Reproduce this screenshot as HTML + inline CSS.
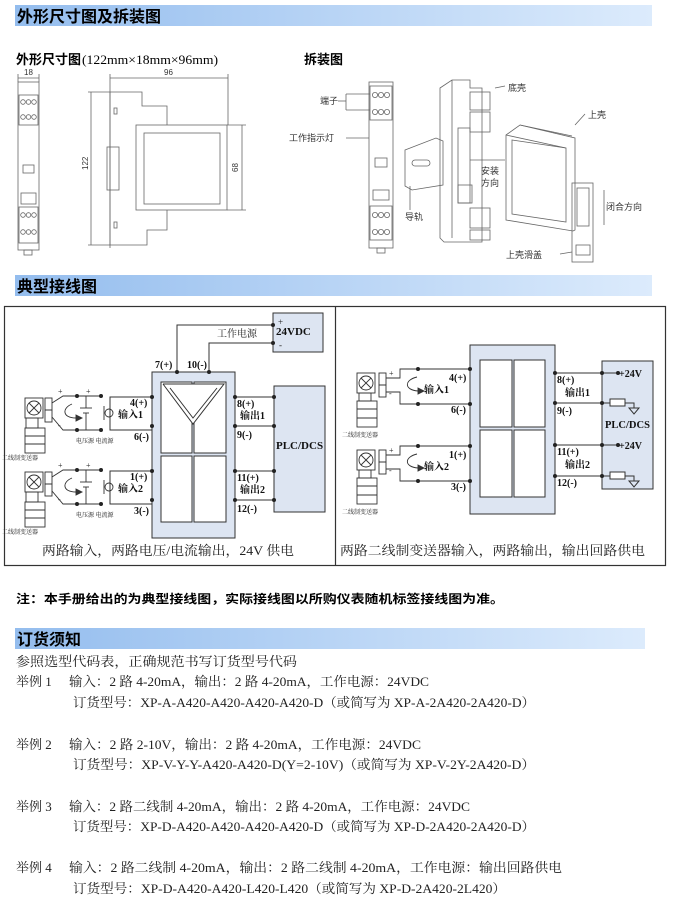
<!DOCTYPE html>
<html><head><meta charset="utf-8"><style>
body{margin:0;background:#fff;}
svg{display:block;}
.h{font-family:"Liberation Sans","Noto Sans CJK SC",sans-serif;font-weight:bold;font-size:16px;fill:#000;}
.s{font-family:"Liberation Serif","Noto Serif CJK SC",serif;fill:#222;}
.t{font-family:"Liberation Sans","Noto Sans CJK SC",sans-serif;fill:#333;}
.b{font-family:"Liberation Serif","Noto Serif CJK SC",serif;font-weight:bold;fill:#111;}
</style></head><body>
<svg width="690" height="917" viewBox="0 0 690 917" xmlns="http://www.w3.org/2000/svg">
<defs>
<linearGradient id="g" x1="0" x2="1" y1="0" y2="0"><stop offset="0" stop-color="#94bdee"/><stop offset="1" stop-color="#dcebfc"/></linearGradient>
</defs>
<rect x="15" y="5" width="637" height="21" fill="url(#g)"/>
<text class="h" x="17" y="22">外形尺寸图及拆装图</text>
<rect x="15" y="275" width="637" height="21" fill="url(#g)"/>
<text class="h" x="17" y="292">典型接线图</text>
<rect x="15" y="628" width="630" height="21" fill="url(#g)"/>
<text class="h" x="17" y="645">订货须知</text>

<text x="16" y="64" font-family="Liberation Sans,Noto Sans CJK SC,sans-serif" font-weight="bold" font-size="13">外形尺寸图</text>
<text x="82" y="64" font-family="Liberation Serif,Noto Serif CJK SC,serif" font-size="13" textLength="136" lengthAdjust="spacingAndGlyphs">(122mm×18mm×96mm)</text>
<text x="304" y="64" font-family="Liberation Sans,Noto Sans CJK SC,sans-serif" font-weight="bold" font-size="13">拆装图</text>

<g stroke="#666" fill="none" stroke-width="0.8">
<line x1="18" y1="78" x2="39" y2="78"/><line x1="18" y1="74" x2="18" y2="82"/><line x1="39" y1="74" x2="39" y2="82"/>
<rect x="18" y="82" width="21" height="168"/>
<rect x="19" y="95" width="19" height="30"/><rect x="19" y="207" width="19" height="36"/>
<circle cx="23" cy="102" r="2.3"/><circle cx="28.5" cy="102" r="2.3"/><circle cx="34" cy="102" r="2.3"/>
<circle cx="23" cy="117" r="2.3"/><circle cx="28.5" cy="117" r="2.3"/><circle cx="34" cy="117" r="2.3"/>
<circle cx="23" cy="215" r="2.3"/><circle cx="28.5" cy="215" r="2.3"/><circle cx="34" cy="215" r="2.3"/>
<circle cx="23" cy="232" r="2.3"/><circle cx="28.5" cy="232" r="2.3"/><circle cx="34" cy="232" r="2.3"/>
<rect x="23" y="165" width="11" height="8"/><rect x="21" y="193" width="15" height="11"/>
<rect x="24" y="250" width="8" height="5"/>
<line x1="110" y1="78" x2="228" y2="78"/><line x1="110" y1="74" x2="110" y2="248"/><line x1="228" y1="74" x2="228" y2="125"/>
<line x1="91" y1="92" x2="91" y2="245"/><line x1="88" y1="92" x2="110" y2="92"/><line x1="88" y1="245" x2="110" y2="245"/>
<polyline points="110,92 142,92 142,106 167,106 167,125"/>
<rect x="136" y="125" width="91" height="85"/><rect x="144" y="133" width="76" height="71"/>
<polyline points="167,210 167,230 147,230 147,245 110,245 110,92"/>
<rect x="107" y="147" width="12" height="43"/><rect x="114" y="108" width="3" height="6"/><rect x="114" y="222" width="3" height="6"/>
<line x1="227" y1="125" x2="246" y2="125"/><line x1="227" y1="210" x2="246" y2="210"/><line x1="242" y1="125" x2="242" y2="210"/>
<rect x="369" y="82" width="24" height="166"/>
<rect x="370" y="86" width="22" height="34"/><rect x="370" y="206" width="22" height="34"/>
<circle cx="375" cy="95" r="2.6"/><circle cx="381" cy="95" r="2.6"/><circle cx="387" cy="95" r="2.6"/>
<circle cx="375" cy="112" r="2.6"/><circle cx="381" cy="112" r="2.6"/><circle cx="387" cy="112" r="2.6"/>
<circle cx="375" cy="215" r="2.6"/><circle cx="381" cy="215" r="2.6"/><circle cx="387" cy="215" r="2.6"/>
<circle cx="375" cy="232" r="2.6"/><circle cx="381" cy="232" r="2.6"/><circle cx="387" cy="232" r="2.6"/>
<rect x="375" y="158" width="12" height="9"/><rect x="373" y="190" width="16" height="10"/><rect x="377" y="248" width="8" height="5"/>
<polyline points="346,94 346,110"/><line x1="346" y1="94" x2="370" y2="94"/><line x1="346" y1="110" x2="370" y2="110"/><line x1="338" y1="101" x2="346" y2="101"/>
<line x1="346" y1="138" x2="369" y2="138"/>
<polygon points="440,88 452,80 470,80 470,88 482,88 482,242 444,242 440,238"/>
<polyline points="452,80 452,238"/>
<rect x="470" y="92" width="20" height="18"/><rect x="470" y="112" width="20" height="20"/>
<rect x="470" y="208" width="20" height="20"/><rect x="470" y="230" width="20" height="10"/>
<rect x="458" y="128" width="12" height="75"/><rect x="458" y="185" width="14" height="18"/>
<polygon points="405,150 436,138 443,141 443,185 412,190 405,186"/><rect x="412" y="160" width="18" height="6" rx="3"/>
<line x1="410" y1="186" x2="410" y2="210"/>
<line x1="470" y1="160" x2="505" y2="160"/>
<polygon points="506,135 520,125 575,138 575,230 573,231 506,220"/>
<polygon points="512,140 566,148 566,222 512,214"/>
<line x1="506" y1="135" x2="566" y2="148"/><line x1="520" y1="125" x2="572" y2="136"/>
<rect x="572" y="183" width="21" height="79"/><rect x="577" y="188" width="12" height="38"/><rect x="576" y="245" width="14" height="10"/>
<line x1="604" y1="225" x2="604" y2="190"/>
<line x1="495" y1="88" x2="505" y2="86"/><line x1="575" y1="125" x2="585" y2="114"/><line x1="572" y1="252" x2="560" y2="254"/>
</g>
<g class="t" font-size="8" fill="#555">
<text x="24" y="75">18</text><text x="164" y="75">96</text>
<text transform="translate(88,170) rotate(-90)">122</text><text transform="translate(238,172) rotate(-90)">68</text>
</g>
<g class="t" font-size="9">
<text x="320" y="104">端子</text><text x="289" y="141">工作指示灯</text>
<text x="508" y="91">底壳</text><text x="588" y="118">上壳</text>
<text x="481" y="174">安装</text><text x="481" y="186">方向</text>
<text x="606" y="210">闭合方向</text><text x="405" y="220">导轨</text><text x="506" y="258">上壳滑盖</text>
</g>

<rect x="4.5" y="306.5" width="661" height="259" fill="none" stroke="#333" stroke-width="1.2"/>
<line x1="335.5" y1="306" x2="335.5" y2="566" stroke="#333" stroke-width="1.2"/>
<g stroke="#333" stroke-width="1" fill="none">
<rect x="152" y="372" width="83" height="166" fill="#dde5f2"/>
<rect x="161" y="382" width="31" height="71" fill="#fff"/><rect x="194" y="382" width="32" height="71" fill="#fff"/>
<rect x="161" y="456" width="31" height="66" fill="#fff"/><rect x="194" y="456" width="32" height="66" fill="#fff"/>
<polyline points="163,384 193,424 224,384 163,384" fill="#fff"/>
<polyline points="170,388 193,418 217,388"/>
<rect x="273" y="313" width="50" height="39" fill="#dde5f2"/>
<polyline points="177,372 177,325 273,325"/><polyline points="209,372 209,343 273,343"/>
<rect x="274" y="386" width="51" height="126" fill="#dde5f2"/>
<line x1="235" y1="397" x2="274" y2="397"/><line x1="235" y1="426" x2="274" y2="426"/>
<line x1="235" y1="471" x2="274" y2="471"/><line x1="235" y1="500" x2="274" y2="500"/>
<polyline points="152,397 110,397 110,430 152,430"/><line x1="152" y1="430" x2="152" y2="426"/>
<polyline points="152,471 110,471 110,504 152,504"/>
</g>
<g fill="#222">
<circle cx="152" cy="397" r="2"/><circle cx="152" cy="426" r="2"/><circle cx="152" cy="471" r="2"/><circle cx="152" cy="500" r="2"/>
<circle cx="235" cy="397" r="2"/><circle cx="235" cy="426" r="2"/><circle cx="235" cy="471" r="2"/><circle cx="235" cy="500" r="2"/>
<circle cx="274" cy="397" r="2"/><circle cx="274" cy="426" r="2"/><circle cx="274" cy="471" r="2"/><circle cx="274" cy="500" r="2"/>
<circle cx="177" cy="372" r="2"/><circle cx="209" cy="372" r="2"/><circle cx="273" cy="325" r="2"/><circle cx="273" cy="343" r="2"/>
</g>
<g id="tx" stroke="#333" stroke-width="0.9" fill="none">
<rect x="25" y="398" width="18" height="20"/><circle cx="34" cy="408" r="7"/><line x1="29" y1="403" x2="39" y2="413"/><line x1="39" y1="403" x2="29" y2="413"/>
<rect x="26" y="418" width="12" height="10"/><rect x="25" y="428" width="20" height="25"/><line x1="25" y1="436" x2="45" y2="436"/><line x1="25" y1="444" x2="45" y2="444"/>
<rect x="45" y="398" width="7" height="12"/><rect x="45" y="410" width="7" height="12"/>
<polyline points="52,403 63,396 101,396"/><polyline points="52,417 63,430 101,430"/>
<path d="M72,404 C62,408 62,418 76,418"/><polygon points="76,415 82,418 76,421" fill="#333"/>
<line x1="86" y1="396" x2="86" y2="408"/><line x1="80" y1="408" x2="92" y2="408"/><line x1="83" y1="413" x2="89" y2="413"/><line x1="86" y1="413" x2="86" y2="430"/>
<circle cx="109" cy="413" r="4"/><line x1="104" y1="406" x2="104" y2="420"/>
</g>
<use href="#tx" transform="translate(0,74)"/>
<g fill="#222"><circle cx="77" cy="396" r="2"/><circle cx="101" cy="396" r="2"/><circle cx="77" cy="430" r="2"/><circle cx="101" cy="430" r="2"/>
<circle cx="77" cy="470" r="2"/><circle cx="101" cy="470" r="2"/><circle cx="77" cy="504" r="2"/><circle cx="101" cy="504" r="2"/></g>
<g class="b" font-size="10">
<text x="155" y="368">7(+)</text><text x="187" y="368">10(-)</text>
<text x="130" y="406">4(+)</text><text x="118" y="418">输入1</text><text x="134" y="440">6(-)</text>
<text x="130" y="480">1(+)</text><text x="118" y="492">输入2</text><text x="134" y="514">3(-)</text>
<text x="237" y="407">8(+)</text><text x="240" y="419">输出1</text><text x="237" y="438">9(-)</text>
<text x="237" y="481">11(+)</text><text x="240" y="493">输出2</text><text x="237" y="512">12(-)</text>
<text x="276" y="335" font-size="11">24VDC</text><text x="276" y="449" font-size="11">PLC/DCS</text>
</g>
<g class="s" font-size="10"><text x="217" y="337">工作电源</text><text x="278" y="325" font-size="9">+</text><text x="279" y="348" font-size="9">-</text>
<text x="58" y="394" font-size="8">+</text><text x="58" y="428" font-size="8">-</text><text x="86" y="394" font-size="8">+</text>
<text x="58" y="468" font-size="8">+</text><text x="58" y="502" font-size="8">-</text><text x="86" y="468" font-size="8">+</text></g>
<g class="s" font-size="6" fill="#444"><text x="76" y="443">电压源 电流源</text><text x="76" y="517">电压源 电流源</text>
<text x="2" y="460">二线制变送器</text><text x="2" y="534">二线制变送器</text></g>

<g stroke="#333" stroke-width="1" fill="none">
<rect x="470" y="345" width="85" height="169" fill="#dde5f2"/>
<rect x="480" y="360" width="32" height="67" fill="#fff"/><rect x="514" y="360" width="31" height="67" fill="#fff"/>
<rect x="480" y="430" width="32" height="67" fill="#fff"/><rect x="514" y="430" width="31" height="67" fill="#fff"/>
<rect x="602" y="361" width="51" height="128" fill="#dde5f2"/>
<line x1="555" y1="373" x2="618" y2="373"/><line x1="555" y1="403" x2="610" y2="403"/><rect x="610" y="399" width="15" height="7" fill="#fff"/><polyline points="625,403 634,403 634,408"/><polygon points="629,408 639,408 634,414"/>
<line x1="555" y1="445" x2="618" y2="445"/><line x1="555" y1="476" x2="610" y2="476"/><rect x="610" y="472" width="15" height="7" fill="#fff"/><polyline points="625,476 634,476 634,481"/><polygon points="629,481 639,481 634,487"/>
<polyline points="470,369 418,369"/><polyline points="470,404 418,404"/>
<polyline points="470,446 418,446"/><polyline points="470,481 418,481"/>
</g>
<g id="tx2" stroke="#333" stroke-width="0.9" fill="none">
<rect x="357" y="373" width="18" height="20"/><circle cx="366" cy="383" r="7"/><line x1="361" y1="378" x2="371" y2="388"/><line x1="371" y1="378" x2="361" y2="388"/>
<rect x="359" y="393" width="12" height="8"/><rect x="357" y="401" width="20" height="26"/><line x1="357" y1="409" x2="377" y2="409"/><line x1="357" y1="418" x2="377" y2="418"/>
<rect x="379" y="373" width="7" height="12"/><rect x="379" y="385" width="7" height="12"/>
<polyline points="386,378 400,378 400,369 418,369"/><polyline points="386,392 400,392 400,404 418,404"/>
<path d="M417,377 C404,380 404,390 418,391"/><polygon points="418,388 424,391 418,394" fill="#333"/>
</g>
<use href="#tx2" transform="translate(0,77)"/>
<g fill="#222">
<circle cx="418" cy="369" r="2"/><circle cx="418" cy="404" r="2"/><circle cx="418" cy="446" r="2"/><circle cx="418" cy="481" r="2"/>
<circle cx="470" cy="369" r="2"/><circle cx="470" cy="404" r="2"/><circle cx="470" cy="446" r="2"/><circle cx="470" cy="481" r="2"/>
<circle cx="555" cy="373" r="2"/><circle cx="555" cy="403" r="2"/><circle cx="555" cy="445" r="2"/><circle cx="555" cy="476" r="2"/>
<circle cx="602" cy="373" r="2"/><circle cx="602" cy="403" r="2"/><circle cx="602" cy="445" r="2"/><circle cx="602" cy="476" r="2"/>
<circle cx="618" cy="373" r="2"/><circle cx="618" cy="445" r="2"/>
</g>
<g class="b" font-size="10">
<text x="449" y="381">4(+)</text><text x="424" y="393">输入1</text><text x="451" y="413">6(-)</text>
<text x="449" y="458">1(+)</text><text x="424" y="470">输入2</text><text x="451" y="490">3(-)</text>
<text x="557" y="383">8(+)</text><text x="565" y="396">输出1</text><text x="557" y="414">9(-)</text>
<text x="557" y="455">11(+)</text><text x="565" y="468">输出2</text><text x="557" y="486">12(-)</text>
<text x="619" y="377">+24V</text><text x="619" y="449">+24V</text><text x="605" y="428" font-size="10.5">PLC/DCS</text>
</g>
<g class="s" font-size="8"><text x="389" y="376">+</text><text x="389" y="396">-</text><text x="389" y="453">+</text><text x="389" y="473">-</text></g>
<g class="s" font-size="6" fill="#444"><text x="342" y="437">二线制变送器</text><text x="342" y="514">二线制变送器</text></g>
<g class="s" font-size="13">
<text x="42" y="555" textLength="252" lengthAdjust="spacingAndGlyphs">两路输入，两路电压/电流输出，24V 供电</text>
<text x="340" y="555" textLength="305" lengthAdjust="spacingAndGlyphs">两路二线制变送器输入，两路输出，输出回路供电</text>
</g>

<text x="16" y="603" font-family="Liberation Sans,Noto Sans CJK SC,sans-serif" font-weight="bold" font-size="12" textLength="488" lengthAdjust="spacingAndGlyphs">注：本手册给出的为典型接线图，实际接线图以所购仪表随机标签接线图为准。</text>

<g class="s" font-size="13" fill="#333">
<text x="16" y="666" textLength="281" lengthAdjust="spacingAndGlyphs">参照选型代码表，正确规范书写订货型号代码</text>
<text x="16" y="686">举例 1</text><text x="69" y="686" textLength="360" lengthAdjust="spacingAndGlyphs">输入：2 路 4-20mA，输出：2 路 4-20mA，工作电源：24VDC</text>
<text x="73" y="707" textLength="462" lengthAdjust="spacingAndGlyphs">订货型号：XP-A-A420-A420-A420-A420-D（或简写为 XP-A-2A420-2A420-D）</text>
<text x="16" y="749">举例 2</text><text x="69" y="749" textLength="352" lengthAdjust="spacingAndGlyphs">输入：2 路 2-10V，输出：2 路 4-20mA，工作电源：24VDC</text>
<text x="73" y="769" textLength="462" lengthAdjust="spacingAndGlyphs">订货型号：XP-V-Y-Y-A420-A420-D(Y=2-10V)（或简写为 XP-V-2Y-2A420-D）</text>
<text x="16" y="811">举例 3</text><text x="69" y="811" textLength="401" lengthAdjust="spacingAndGlyphs">输入：2 路二线制 4-20mA，输出：2 路 4-20mA，工作电源：24VDC</text>
<text x="73" y="831" textLength="462" lengthAdjust="spacingAndGlyphs">订货型号：XP-D-A420-A420-A420-A420-D（或简写为 XP-D-2A420-2A420-D）</text>
<text x="16" y="872">举例 4</text><text x="69" y="872" textLength="493" lengthAdjust="spacingAndGlyphs">输入：2 路二线制 4-20mA，输出：2 路二线制 4-20mA，工作电源：输出回路供电</text>
<text x="73" y="893" textLength="433" lengthAdjust="spacingAndGlyphs">订货型号：XP-D-A420-A420-L420-L420（或简写为 XP-D-2A420-2L420）</text>
</g>
</svg>
</body></html>
